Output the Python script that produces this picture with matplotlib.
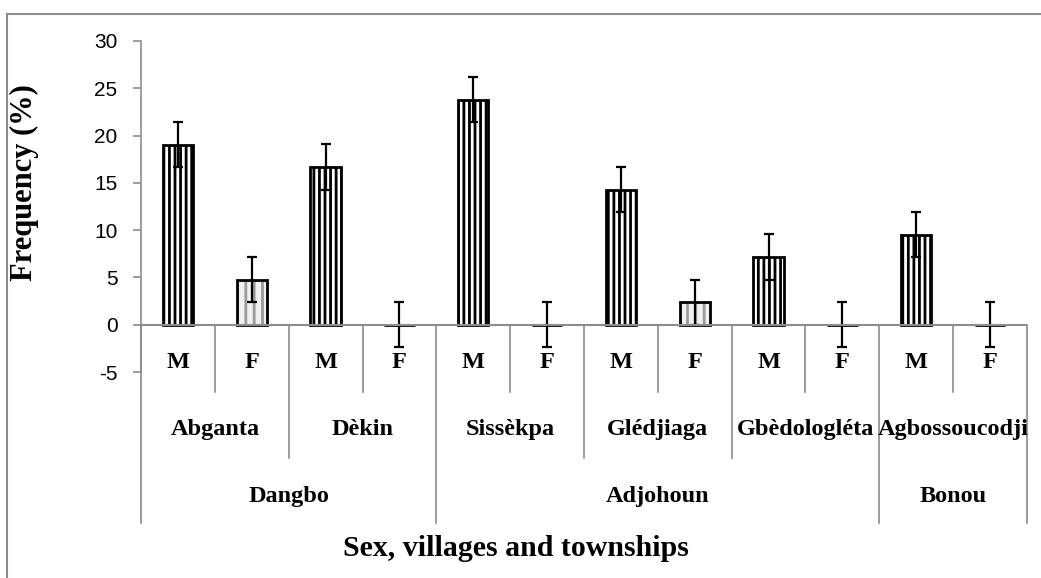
import numpy as np
import matplotlib
matplotlib.use('Agg')
import matplotlib.pyplot as plt
from matplotlib.lines import Line2D

# data
sexes = ['M', 'F'] * 6
villages = ['Abganta', 'Dèkin', 'Sissèkpa', 'Glédjiaga', 'Gbèdologléta', 'Agbossoucodji']
townships = ['Dangbo', 'Adjohoun', 'Bonou']
village_township = [0, 0, 1, 1, 1, 2]
freq = [19.05, 4.76, 16.67, 0.0, 23.81, 0.0, 14.29, 2.38, 7.14, 0.0, 9.52, 0.0]
err = [2.4] * 12
yticks = [-5, 0, 5, 10, 15, 20, 25, 30]

plt.rcParams['hatch.linewidth'] = 2.0
plt.rcParams['axes.unicode_minus'] = False
serif = 'Liberation Serif'
grey = '#8c8c8c'

W, H = 1041, 578
fig = plt.figure(figsize=(W / 100, H / 100), dpi=100)
ax = fig.add_axes([141 / W, 1 - 372 / H, (1027 - 141) / W, (372 - 41) / H])

x = np.arange(len(freq))
for i in x:
    if sexes[i] == 'M':
        ax.bar(i, freq[i], width=0.41, color='white', edgecolor='black', hatch='|||', linewidth=0)
    else:
        ax.bar(i, freq[i], width=0.41, color='#f0f0f0', edgecolor='#9a9a9a', hatch='||', linewidth=0)
    ax.bar(i, freq[i], width=0.41, fill=False, edgecolor='black', linewidth=2)
ax.errorbar(x, freq, yerr=err, fmt='none', ecolor='black', elinewidth=1.6, capsize=3.5, capthick=1.6)

ax.set_xlim(-0.5, len(freq) - 0.5)
ax.set_ylim(-5, 30)
ax.set_yticks(yticks)
ax.set_xticks([])
for s in ['top', 'right', 'bottom']:
    ax.spines[s].set_visible(False)
ax.spines['left'].set_color(grey)
ax.spines['left'].set_linewidth(1.2)
ax.tick_params(axis='y', direction='out', length=6, color=grey, width=1.2, pad=11, labelsize=15)
for lab in ax.get_yticklabels():
    lab.set_fontfamily('Liberation Sans')
ax.axhline(0, color=grey, lw=1.5)

# hierarchical category axis
lvl = [-7.1, -14.1, -21.0]
ax.plot([x[0] - 0.5] * 2, [0, lvl[2]], color=grey, lw=1.2, clip_on=False)
for i in x:
    ax.text(i, -4.0, sexes[i], ha='center', va='center', family=serif, weight='bold', fontsize=17.5)
    edge = i + 0.5
    if i % 2 == 0:
        ax.plot([edge, edge], [0, lvl[0]], color=grey, lw=1.2, clip_on=False)
for v, name in enumerate(villages):
    ax.text(2 * v + 0.5, -11.1, name, ha='center', va='center', family=serif, weight='bold', fontsize=17.5)
    edge = 2 * v + 1.5
    last = v == len(villages) - 1 or village_township[v] != village_township[v + 1]
    ax.plot([edge, edge], [0, lvl[2] if last else lvl[1]], color=grey, lw=1.2, clip_on=False)
for t, name in enumerate(townships):
    idx = [2 * v for v in range(len(villages)) if village_township[v] == t]
    centre = (idx[0] + idx[-1] + 1) / 2
    ax.text(centre, -18.2, name, ha='center', va='center', family=serif, weight='bold', fontsize=17.5)

ax.set_ylabel('Frequency (%)', family=serif, weight='bold', fontsize=22, va='center')
ax.yaxis.set_label_coords(-0.132, 0.571)
fig.text(516 / W, 1 - 548 / H, 'Sex, villages and townships', ha='center', va='center',
         family=serif, weight='bold', fontsize=21.5)

# chart frame (cropped: top and left only)
fig.add_artist(Line2D([7 / W, 1], [1 - 13.5 / H] * 2, color=grey, lw=1.5))
fig.add_artist(Line2D([7 / W] * 2, [0, 1 - 13.5 / H], color=grey, lw=1.5))

fig.savefig('out.png', dpi=100)
